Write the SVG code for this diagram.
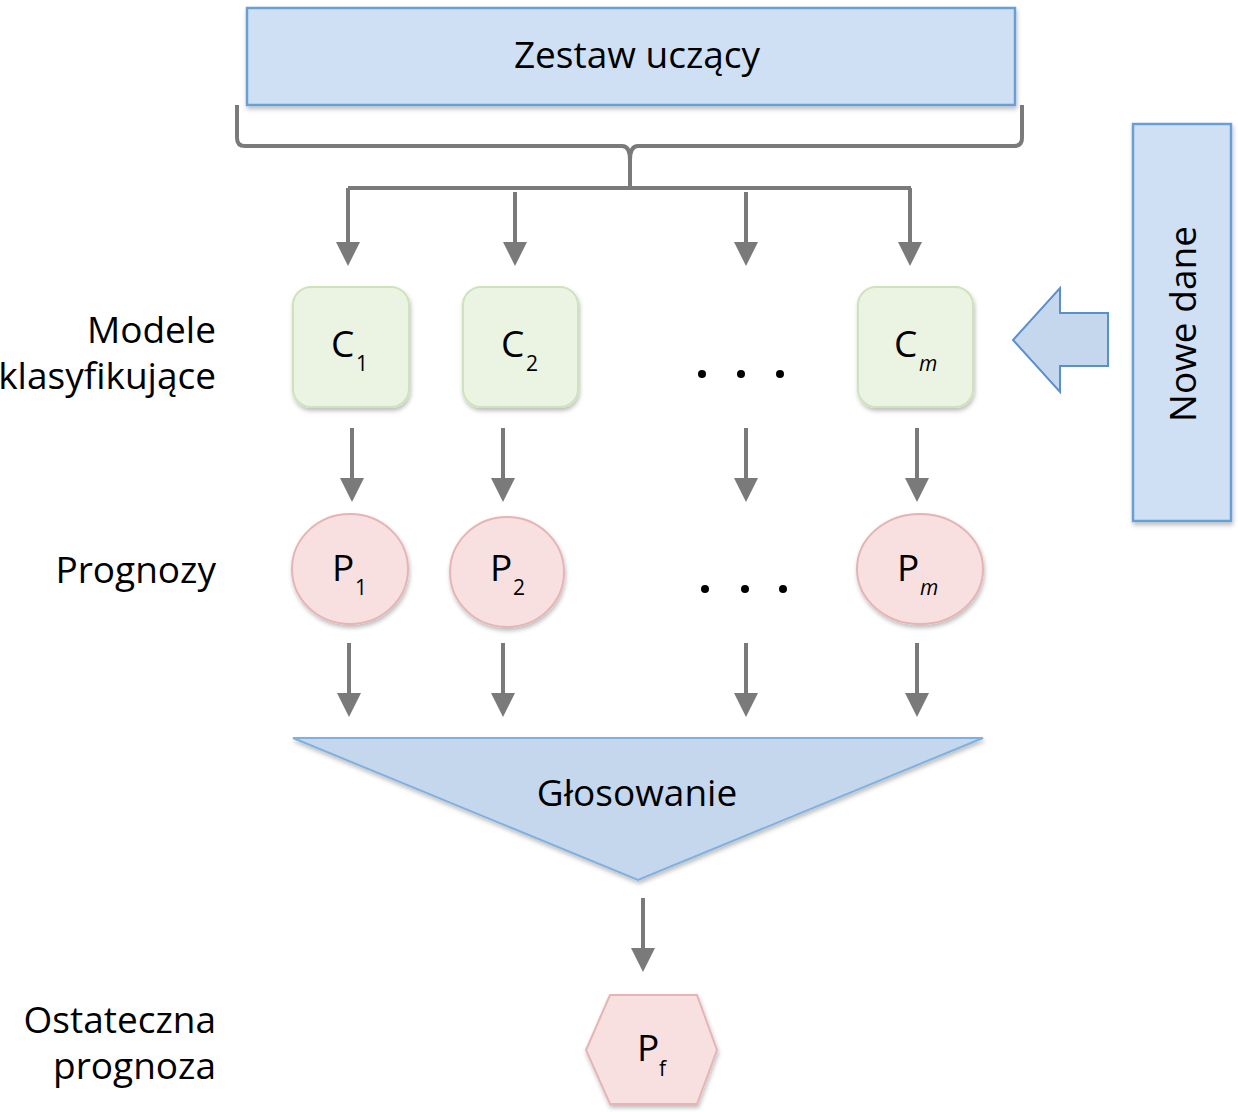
<svg xmlns="http://www.w3.org/2000/svg" width="1238" height="1112" viewBox="0 0 1238 1112">
<style>
text{font-family:"Open Sans","Liberation Sans",sans-serif;fill:#000}
.lbl{font-size:37px;text-anchor:end}
.big{font-size:37px;text-anchor:middle}
.main{font-size:37px}
.sub{font-size:21px}
.conn{stroke:#7a7a7a;stroke-width:4;fill:none}
.cbox{fill:#ebf3e3;stroke:#cfe3ba;stroke-width:2;filter:url(#sh)}
.pell{fill:#f8e0e0;stroke:#e6b4b4;stroke-width:2;filter:url(#sh)}
.blue{fill:#cfe0f4;stroke:#6b9fd6;stroke-width:2.5;filter:url(#sh)}
.dot{fill:#000}
</style>
<defs>
<marker id="ah" markerWidth="6" markerHeight="6" refX="5" refY="3" orient="auto" markerUnits="strokeWidth">
<path d="M0,0 L6,3 L0,6 Z" fill="#7a7a7a"/>
</marker>
<filter id="sh" x="-10%" y="-10%" width="125%" height="125%">
<feDropShadow dx="1" dy="3" stdDeviation="2" flood-color="#000" flood-opacity="0.25"/>
</filter>
</defs>

<g id="training-set">
<rect class="blue" x="247" y="8" width="768" height="97"/>
<text class="big" x="637" y="68">Zestaw uczący</text>
</g>

<g id="new-data">
<rect class="blue" x="1133" y="124" width="98" height="397"/>
<text class="big" transform="translate(1196,324) rotate(-90)">Nowe dane</text>
<path d="M1108,313 L1060,313 L1060,288 L1013,340 L1060,392 L1060,366 L1108,366 Z" fill="#c5d7ec" stroke="#5b8fcc" stroke-width="2"/>
</g>

<g id="row-labels">
<text class="lbl" x="216" y="343">Modele</text>
<text class="lbl" x="216" y="389">klasyfikujące</text>
<text class="lbl" x="216" y="583">Prognozy</text>
<text class="lbl" x="216" y="1033">Ostateczna</text>
<text class="lbl" x="216" y="1079">prognoza</text>
</g>

<g id="C1">
<rect class="cbox" x="293" y="287" width="116" height="120" rx="18"/>
<text class="main" x="331" y="357">C</text><text class="sub" x="356" y="371">1</text>
</g>
<g id="C2">
<rect class="cbox" x="463" y="287" width="115" height="120" rx="18"/>
<text class="main" x="501" y="357">C</text><text class="sub" x="526" y="371">2</text>
</g>
<g id="Cm">
<rect class="cbox" x="858" y="287" width="115" height="120" rx="18"/>
<text class="main" x="894" y="357">C</text><text class="sub" x="919" y="371" font-style="italic">m</text>
</g>
<g id="dots-c">
<circle class="dot" cx="702" cy="374" r="4"/><circle class="dot" cx="741" cy="374" r="4"/><circle class="dot" cx="780" cy="374" r="4"/>
</g>

<g id="P1">
<ellipse class="pell" cx="350" cy="569" rx="58" ry="55"/>
<text class="main" x="332" y="581">P</text><text class="sub" x="355" y="595">1</text>
</g>
<g id="P2">
<ellipse class="pell" cx="507" cy="572" rx="57" ry="55"/>
<text class="main" x="490" y="581">P</text><text class="sub" x="513" y="595">2</text>
</g>
<g id="Pm">
<ellipse class="pell" cx="920" cy="569" rx="63" ry="55"/>
<text class="main" x="897" y="581">P</text><text class="sub" x="920" y="595" font-style="italic">m</text>
</g>
<g id="dots-p">
<circle class="dot" cx="705" cy="589" r="4"/><circle class="dot" cx="745" cy="589" r="4"/><circle class="dot" cx="783" cy="589" r="4"/>
</g>

<g id="voting">
<polygon points="293,738 983,738 638,880" fill="#c5d7ec" stroke="#7fb0e0" stroke-width="2" filter="url(#sh)"/>
<text class="big" x="637" y="806">Głosowanie</text>
</g>

<g id="Pf">
<polygon points="610,995 697,995 717,1050 697,1104 610,1104 586,1050" fill="#f8e0e0" stroke="#e6b4b4" stroke-width="2" filter="url(#sh)"/>
<text class="main" x="637" y="1061">P</text><text class="sub" x="659" y="1076">f</text>
</g>

<g id="connectors">
<path class="conn" d="M237,105 L237,138 Q237,146 245,146 L622,146 Q630,146 630,160 L630,188"/>
<path class="conn" d="M1022,105 L1022,138 Q1022,146 1014,146 L638,146 Q630,146 630,160"/>
<path class="conn" d="M348,188 L911,188"/>
<g class="conn" marker-end="url(#ah)">
<line x1="348" y1="188" x2="348" y2="262"/>
<line x1="515" y1="192" x2="515" y2="262"/>
<line x1="746" y1="192" x2="746" y2="262"/>
<line x1="910" y1="188" x2="910" y2="262"/>
<line x1="352" y1="428" x2="352" y2="498"/>
<line x1="503" y1="428" x2="503" y2="498"/>
<line x1="746" y1="428" x2="746" y2="498"/>
<line x1="917" y1="428" x2="917" y2="498"/>
<line x1="349" y1="643" x2="349" y2="713"/>
<line x1="503" y1="643" x2="503" y2="713"/>
<line x1="746" y1="643" x2="746" y2="713"/>
<line x1="917" y1="643" x2="917" y2="713"/>
<line x1="643" y1="898" x2="643" y2="968"/>
</g>
</g>
</svg>
